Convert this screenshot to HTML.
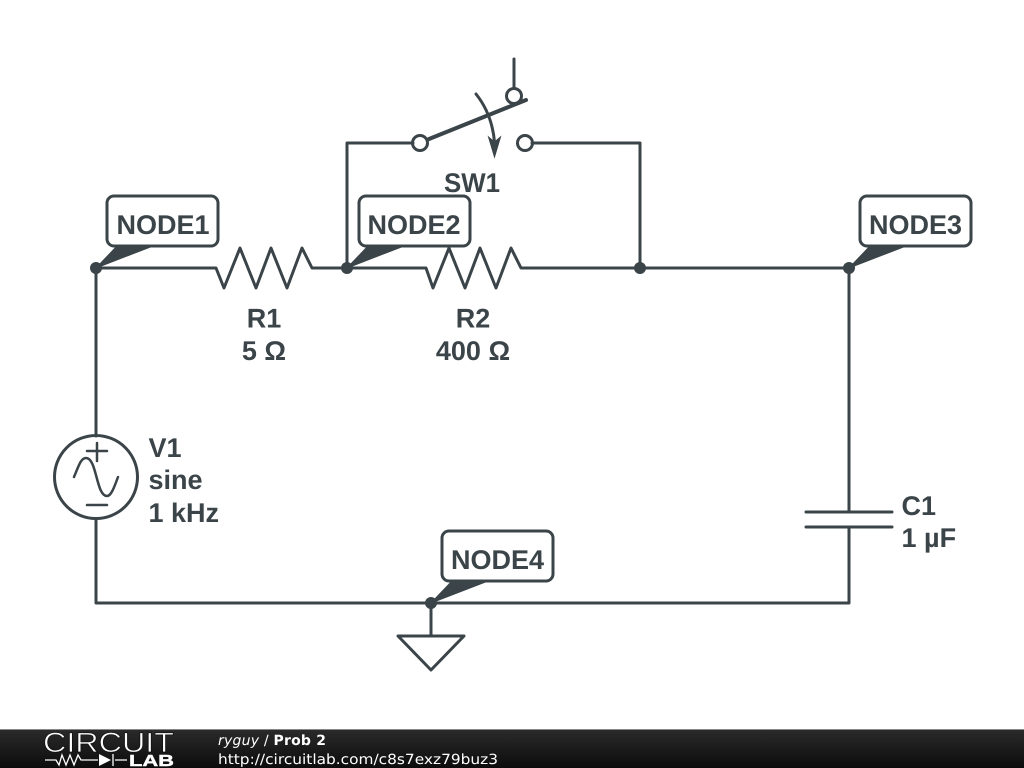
<!DOCTYPE html>
<html><head><meta charset="utf-8"><style>
html,body{margin:0;padding:0;background:#fff;width:1024px;height:768px;overflow:hidden}
svg{display:block}
text{text-rendering:geometricPrecision}
</style></head><body>
<svg width="1024" height="768" viewBox="0 0 1024 768" xmlns="http://www.w3.org/2000/svg">
<defs><linearGradient id="b" x1="0" y1="0" x2="0" y2="1"><stop offset="0" stop-color="#2b2b2b"/><stop offset="1" stop-color="#0c0c0c"/></linearGradient></defs>
<rect width="1024" height="768" fill="#fff"/>
<g fill="none" stroke="#3b4448" stroke-width="3" stroke-linejoin="round" stroke-linecap="round">
<!-- wires -->
<path d="M96 436V268H216L224 288L240 248L256 288L271 248L287 288L302 248L312 268H426L433 288L449 248L465 288L480 248L496 288L511 248L521 268H849V512"/>
<path d="M96 519V603H849V527"/>
<path d="M347 268V143H413"/>
<path d="M532 143H640V268"/>
<path d="M514 59V88"/>
<!-- switch -->
<circle cx="420" cy="143" r="7.500"/>
<circle cx="525" cy="143" r="7.500"/>
<circle cx="514" cy="96" r="7.500"/>
<path d="M429 139L526 100" stroke-width="4"/>
<path d="M476 94Q492 114 494.500 142"/>
<!-- V1 -->
<circle cx="96" cy="477" r="41.500"/>
<path d="M87 451H107M97 443V461M87 505H107" stroke-width="2.500"/>
<path d="M74 477C79 465 81 458 86 458C97 458 96 496 107 496C111 496 114 488 118 477" stroke-width="2.500"/>
<!-- C1 -->
<path d="M806 512H892M806 527H892"/>
<!-- ground -->
<path d="M431 603V636M398 636H464L431 670Z"/>
<!-- flags -->
<rect x="107" y="196" width="111" height="50" rx="7" fill="#fff"/>
<rect x="359" y="196" width="111" height="50" rx="7" fill="#fff"/>
<rect x="860" y="196" width="111" height="50" rx="7" fill="#fff"/>
<rect x="442" y="531" width="111" height="50" rx="7" fill="#fff"/>
</g>
<g fill="#3b4448" stroke="#3b4448" stroke-width="1">
<path d="M96 268L117 246H153Z"/><circle cx="96" cy="268" r="5.500"/>
<path d="M347 268L368 246H404Z"/><circle cx="347" cy="268" r="5.500"/>
<path d="M849 268L870 246H906Z"/><circle cx="849" cy="268" r="5.500"/>
<path d="M431 603L452 581H488Z"/><circle cx="431" cy="603" r="5.500"/>
<circle cx="640" cy="268" r="5.500"/>
<path d="M488.500 137L494.500 142L500.500 137L494.500 157Z"/>
</g>
<g font-family="'Liberation Sans',sans-serif" font-weight="700" font-size="27" fill="#3b4448">
<text x="163" y="234" text-anchor="middle">NODE1</text>
<text x="414" y="234" text-anchor="middle">NODE2</text>
<text x="915.500" y="234" text-anchor="middle">NODE3</text>
<text x="497.500" y="569" text-anchor="middle">NODE4</text>
<text x="472" y="192" text-anchor="middle" textLength="56" lengthAdjust="spacingAndGlyphs">SW1</text>
<text x="264" y="327.500" text-anchor="middle">R1</text>
<text x="264" y="360" text-anchor="middle">5 Ω</text>
<text x="473" y="327.500" text-anchor="middle">R2</text>
<text x="473" y="360" text-anchor="middle">400 Ω</text>
<text x="148.500" y="457">V1</text>
<text x="148.500" y="489">sine</text>
<text x="148.500" y="522">1 kHz</text>
<text x="901.500" y="515">C1</text>
<text x="901.500" y="547">1 µF</text>
</g>
<!-- footer -->
<rect y="729" width="1024" height="39" fill="url(#b)"/>
<rect y="729" width="1024" height="1" fill="#888"/>
<text x="43" y="752" font-family="'Liberation Sans',sans-serif" font-size="28" fill="#fff" stroke="#111" stroke-width="0.7" textLength="131" lengthAdjust="spacingAndGlyphs">CIRCUIT</text>
<g fill="none" stroke="#fff" stroke-width="1.300">
<path d="M45 760H56L59 765L62 755L66 765L70 755L74 765L78 755L81 760H98M115 760H127"/>
<path d="M113 754V766"/>
</g>
<path d="M99 754L111 760L99 766Z" fill="#fff"/>
<text x="129" y="766" font-family="'Liberation Sans',sans-serif" font-weight="700" font-size="16" fill="#fff" stroke="#fff" stroke-width="0.4" textLength="45" lengthAdjust="spacingAndGlyphs">LAB</text>
<g font-family="'DejaVu Sans',sans-serif" font-size="14" fill="#fff">
<text x="218" y="745" textLength="108"><tspan font-style="italic">ryguy</tspan> / <tspan font-weight="700">Prob 2</tspan></text>
<text x="218" y="764" textLength="280" lengthAdjust="spacingAndGlyphs">http://circuitlab.com/c8s7exz79buz3</text>
</g>
</svg>
</body></html>
